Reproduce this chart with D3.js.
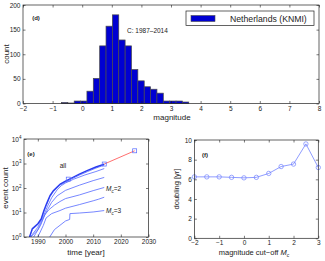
<!DOCTYPE html>
<html>
<head>
<meta charset="utf-8">
<style>
  body { margin: 0; background: #fff; }
  svg { display: block; font-family: "Liberation Sans", Arial, sans-serif; }
</style>
</head>
<body>
<div class="container"></div>
<script src="https://d3js.org/d3.v7.min.js"></script>
<script>
// (d) magnitude histogram
var binLeft = [-0.7, -0.485, -0.27, -0.055, 0.16, 0.375, 0.59, 0.805, 1.02, 1.235,
               1.45, 1.665, 1.88, 2.095, 2.31, 2.525, 2.74, 2.955, 3.17, 3.385];
var binWidth = 0.215;
var binCount = [2, 1, 5, 5, 25, 51, 117, 157, 180, 129, 117, 69, 46, 34, 29, 21, 5, 5, 5, 3];

// (e) cumulative event count per cut-off
var yrAll   = [1987, 1988, 1990, 1991.2, 1992.2, 1993.1, 1994.4, 1995.6, 1996.9, 1998.1, 2000, 2002, 2005, 2008, 2011, 2014];
var cntAll  = [1, 2.2, 3.5, 5.5, 12, 22, 49, 78, 107, 145, 190, 250, 370, 520, 720, 950];
var cntM05  = [1, 2, 3.2, 5, 11, 20, 44, 70, 98, 132, 172, 228, 335, 470, 650, 860];
var yrM1    = [1987.3, 1990, 1992, 1993.5, 1995, 1997, 1998.5, 2000, 2003, 2007, 2011, 2014];
var cntM1   = [1, 2.5, 7, 18, 40, 85, 125, 160, 230, 340, 470, 620];
var yrM15   = [1987.5, 1990, 1992, 1993.5, 1995, 1997, 2000, 2005, 2010, 2014];
var cntM15  = [1, 2, 6, 13, 26, 48, 80, 130, 200, 270];
var yrM2    = [1988.5, 1991, 1992.5, 1994, 1996, 1998, 2000, 2005, 2010, 2014];
var cntM2   = [1, 3, 8, 13, 20, 28, 37, 52, 78, 105];
var yrM25   = [1990, 1992, 1993, 1995, 1998, 2000, 2005, 2010, 2012, 2014];
var cntM25  = [1, 3, 6, 9, 12, 15, 21, 30, 35, 42];
var yrM3    = [1994.3, 1996, 1998, 2000, 2001.5, 2001.6, 2005, 2010, 2014];
var cntM3   = [1, 2, 3, 4.5, 5.2, 9, 9.5, 10.5, 12];
var yrFit   = [2014, 2025];
var cntFit  = [950, 3300];
var yrMark  = [2001, 2014, 2025];
var cntMark = [230, 950, 3300];

// (f) doubling time vs cut-off
var mcVals  = [-2, -1.5, -1, -0.5, 0, 0.5, 1, 1.5, 2, 2.5, 3];
var dblVals = [6.25, 6.25, 6.25, 6.2, 6.15, 6.2, 6.6, 7.3, 7.55, 9.6, 7.2];

var svg = d3.select('.container')
            .append('svg')
            .attr('width', 325)
            .attr('height', 261);

var ink = '#222';
var lineBlue = '#5468ff';

// box with inward ticks on all four sides
function drawBox(x, y, xticks, yticks, yfmt) {
    var x0 = x.range()[0], x1 = x.range()[1];
    var y0 = y.range()[0], y1 = y.range()[1];
    var g = svg.append('g');
    var bottom = g.append('g').attr('transform', 'translate(0,' + y0 + ')')
        .call(d3.axisBottom(x).tickValues(xticks).tickSizeInner(-2.5).tickSizeOuter(0)
              .tickPadding(2.5).tickFormat(d3.format('d')));
    g.append('g').attr('transform', 'translate(0,' + y1 + ')')
        .call(d3.axisTop(x).tickValues(xticks).tickSizeInner(-2.5).tickSizeOuter(0).tickFormat(''));
    var left = g.append('g').attr('transform', 'translate(' + x0 + ',0)')
        .call(d3.axisLeft(y).tickValues(yticks).tickSizeInner(-2.5).tickSizeOuter(0)
              .tickPadding(2.5).tickFormat(yfmt || d3.format('d')));
    g.append('g').attr('transform', 'translate(' + x1 + ',0)')
        .call(d3.axisRight(y).tickValues(yticks).tickSizeInner(-2.5).tickSizeOuter(0).tickFormat(''));
    g.selectAll('.domain').remove();
    g.selectAll('.tick line').attr('stroke', ink).attr('stroke-width', 0.6);
    g.selectAll('.tick text').attr('fill', ink).attr('font-size', 6.5)
        .attr('font-family', '"Liberation Sans", Arial, sans-serif');
    g.append('rect').attr('x', x0).attr('y', y1)
        .attr('width', x1 - x0).attr('height', y0 - y1)
        .attr('fill', 'none').attr('stroke', ink).attr('stroke-width', 0.7);
    return { bottom: bottom, left: left };
}

function label(x, y, txt, size, rot, anchor) {
    var t = svg.append('text')
        .attr('x', x).attr('y', y)
        .attr('font-size', size)
        .attr('fill', ink)
        .attr('text-anchor', anchor || 'middle')
        .text(txt);
    if (rot) t.attr('transform', 'rotate(' + rot + ',' + x + ',' + y + ')');
    return t;
}

// ---------- (d) ----------
var xd = d3.scaleLinear().domain([-2, 8]).range([23, 319]);
var yd = d3.scaleLinear().domain([0, 200]).range([103.5, 5]);

svg.append('g').selectAll('rect')
    .data(binCount)
    .enter().append('rect')
    .attr('x', function(d, i) { return xd(binLeft[i]); })
    .attr('y', function(d) { return yd(d); })
    .attr('width', function(d, i) { return xd(binLeft[i] + binWidth) - xd(binLeft[i]); })
    .attr('height', function(d) { return yd(0) - yd(d); })
    .attr('fill', '#0000d2')
    .attr('stroke', '#4a4a4a')
    .attr('stroke-width', 0.7);

drawBox(xd, yd, d3.range(-2, 9, 1), [0, 50, 100, 150, 200]);

label(172, 120, 'magnitude', 8);
label(9, 54, 'count', 8, -90);
label(36, 20, '(d)', 6).attr('font-weight', 'bold');
label(127, 33, 'C: 1987\u20132014', 6.5, 0, 'start');

// legend
svg.append('rect').attr('x', 186).attr('y', 11).attr('width', 128).attr('height', 14.5)
    .attr('fill', '#fff').attr('stroke', ink).attr('stroke-width', 0.7);
svg.append('rect').attr('x', 191).attr('y', 15.5).attr('width', 24).attr('height', 6)
    .attr('fill', '#0000d2').attr('stroke', '#4a4a4a').attr('stroke-width', 0.6);
label(230, 21.5, 'Netherlands (KNMI)', 8.7, 0, 'start');

// ---------- (e) ----------
var xe = d3.scaleLinear().domain([1985, 2030]).range([24, 148.5]);
var ye = d3.scaleLog().domain([1, 1e4]).range([237, 139]);

var clip = svg.append('clipPath').attr('id', 'clipE')
    .append('rect').attr('x', 24).attr('y', 139).attr('width', 124.5).attr('height', 98);

var lineE = d3.line()
    .x(function(d) { return xe(d[0]); })
    .y(function(d) { return ye(d[1]); });

function series(yrs, cnts) {
    return yrs.map(function(v, i) { return [v, cnts[i]]; });
}

var gE = svg.append('g').attr('clip-path', 'url(#clipE)');
var curves = [
    { d: series(yrM3, cntM3), w: 0.8, c: lineBlue },
    { d: series(yrM25, cntM25), w: 0.8, c: lineBlue },
    { d: series(yrM2, cntM2), w: 0.8, c: lineBlue },
    { d: series(yrM15, cntM15), w: 0.8, c: lineBlue },
    { d: series(yrM1, cntM1), w: 0.8, c: lineBlue },
    { d: series(yrAll, cntM05), w: 0.8, c: lineBlue },
    { d: series(yrAll, cntAll), w: 1.4, c: '#2a3cf0' }
];
gE.selectAll('path.curve')
    .data(curves)
    .enter().append('path')
    .attr('class', 'curve')
    .attr('d', function(d) { return lineE(d.d); })
    .attr('fill', 'none')
    .attr('stroke', function(d) { return d.c; })
    .attr('stroke-width', function(d) { return d.w; });

gE.append('path')
    .attr('d', lineE(series(yrFit, cntFit)))
    .attr('fill', 'none').attr('stroke', '#ff4a4a').attr('stroke-width', 0.8);

gE.selectAll('rect.mark')
    .data(series(yrMark, cntMark))
    .enter().append('rect')
    .attr('class', 'mark')
    .attr('x', function(d) { return xe(d[0]) - 2; })
    .attr('y', function(d) { return ye(d[1]) - 2; })
    .attr('width', 4).attr('height', 4)
    .attr('fill', 'none').attr('stroke', lineBlue).attr('stroke-width', 0.7);

var axE = drawBox(xe, ye, [1990, 2000, 2010, 2020, 2030], [1, 10, 100, 1000, 10000],
                  function() { return ''; });
axE.left.selectAll('.tick text').each(function(d) {
    var t = d3.select(this);
    t.text('10');
    t.append('tspan').attr('dy', -3).attr('font-size', 4.5).text(Math.round(Math.log10(d)));
});

label(86, 255, 'time [year]', 8);
label(8, 188, 'event count', 8, -90);
label(31, 156, '(e)', 6).attr('font-weight', 'bold');
label(63, 168, 'all', 6.5);
var m2 = label(106, 191, 'M', 6.5, 0, 'start').attr('font-style', 'italic');
m2.append('tspan').attr('dy', 1.8).attr('font-size', 4.5).text('c');
m2.append('tspan').attr('dy', -1.8).attr('font-style', 'normal').text('=2');
var m3 = label(106, 213, 'M', 6.5, 0, 'start').attr('font-style', 'italic');
m3.append('tspan').attr('dy', 1.8).attr('font-size', 4.5).text('c');
m3.append('tspan').attr('dy', -1.8).attr('font-style', 'normal').text('=3');

// ---------- (f) ----------
var xf = d3.scaleLinear().domain([-2, 3]).range([194.4, 318.3]);
var yf = d3.scaleLinear().domain([0, 10]).range([238.3, 140]);

var lineF = d3.line()
    .x(function(d, i) { return xf(mcVals[i]); })
    .y(function(d) { return yf(d); });

svg.append('path')
    .attr('d', lineF(dblVals))
    .attr('fill', 'none').attr('stroke', '#7283ff').attr('stroke-width', 0.8);

svg.append('g').selectAll('circle')
    .data(dblVals)
    .enter().append('circle')
    .attr('cx', function(d, i) { return xf(mcVals[i]); })
    .attr('cy', function(d) { return yf(d); })
    .attr('r', 2.2)
    .attr('fill', 'none').attr('stroke', '#7283ff').attr('stroke-width', 0.7);

drawBox(xf, yf, [-2, -1, 0, 1, 2, 3], [0, 2, 4, 6, 8, 10]);

var xl = label(254, 255, 'magnitude cut\u2212off ', 7.5);
xl.append('tspan').attr('font-style', 'italic').text('M');
xl.append('tspan').attr('dy', 1.8).attr('font-size', 5).attr('font-style', 'italic').text('c');
label(179, 189, 'doubling [yr]', 7.5, -90);
label(205, 157, '(f)', 6).attr('font-weight', 'bold');
</script>
</body>
</html>
